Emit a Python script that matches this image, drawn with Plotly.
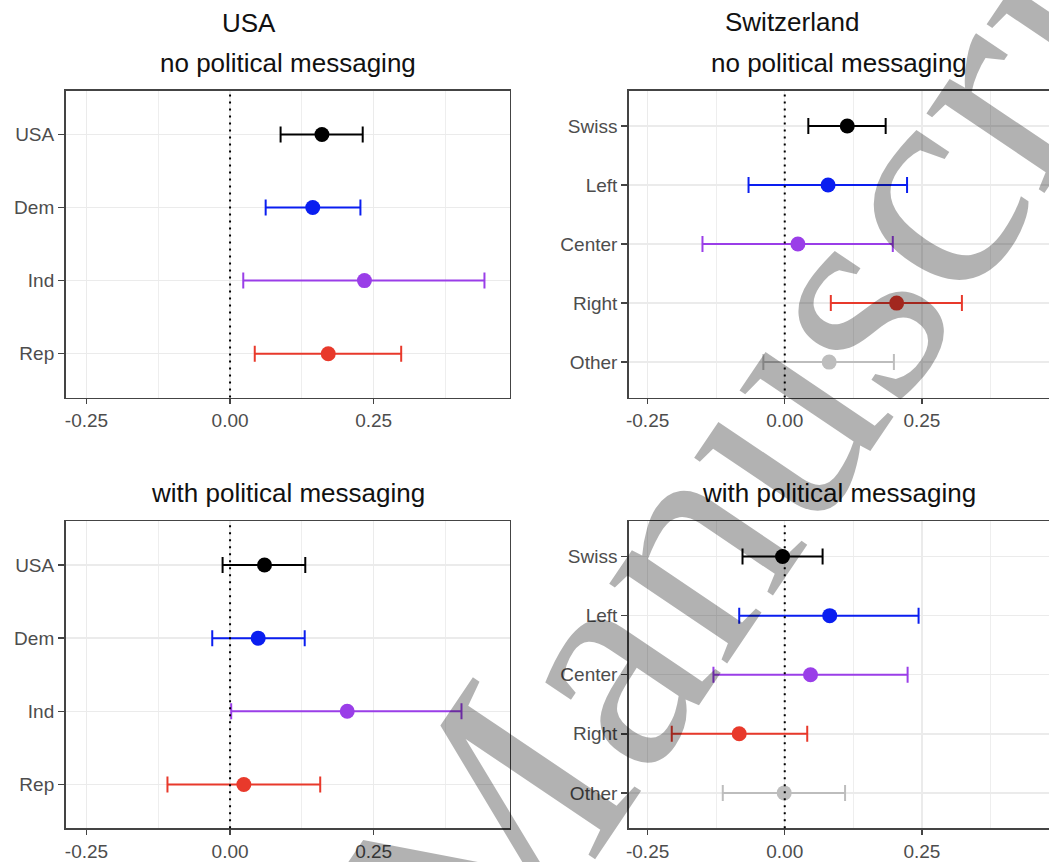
import plotly.graph_objects as go

# ---------------- data ----------------
usa_groups = ["USA", "Dem", "Ind", "Rep"]
usa_colors = ["#000000", "#0a1ef0", "#9a3ee8", "#e8392b"]

usa_no_est = [0.160, 0.144, 0.234, 0.171]
usa_no_lo = [0.088, 0.062, 0.023, 0.043]
usa_no_hi = [0.231, 0.227, 0.443, 0.298]

usa_with_est = [0.060, 0.049, 0.204, 0.024]
usa_with_lo = [-0.013, -0.031, 0.002, -0.109]
usa_with_hi = [0.131, 0.130, 0.403, 0.157]

swiss_groups = ["Swiss", "Left", "Center", "Right", "Other"]
swiss_colors = ["#000000", "#0a1ef0", "#9a3ee8", "#e8392b", "#bdbdbd"]

swiss_no_est = [0.114, 0.079, 0.024, 0.204, 0.081]
swiss_no_lo = [0.043, -0.066, -0.150, 0.084, -0.039]
swiss_no_hi = [0.184, 0.223, 0.197, 0.323, 0.199]

swiss_with_est = [-0.004, 0.082, 0.047, -0.083, -0.001]
swiss_with_lo = [-0.077, -0.083, -0.130, -0.206, -0.113]
swiss_with_hi = [0.069, 0.244, 0.224, 0.041, 0.110]

x_ticks = [-0.25, 0.0, 0.25]
x_tick_labels = ["-0.25", "0.00", "0.25"]
x_minor = [-0.125, 0.125, 0.375]

# ---------------- figure ----------------
W, H = 1049, 862
fig = go.Figure()

panels = [
    ("x", "y", usa_groups, usa_colors, usa_no_est, usa_no_lo, usa_no_hi),
    ("x2", "y2", swiss_groups, swiss_colors, swiss_no_est, swiss_no_lo, swiss_no_hi),
    ("x3", "y3", usa_groups, usa_colors, usa_with_est, usa_with_lo, usa_with_hi),
    ("x4", "y4", swiss_groups, swiss_colors, swiss_with_est, swiss_with_lo, swiss_with_hi),
]

for xa, ya, groups, colors, est, lo, hi in panels:
    for g, c, e, l, h in zip(groups, colors, est, lo, hi):
        fig.add_trace(go.Scatter(
            x=[e], y=[g], xaxis=xa, yaxis=ya, mode="markers",
            marker=dict(size=15, color=c, line=dict(width=0)),
            error_x=dict(type="data", symmetric=False,
                         array=[h - e], arrayminus=[e - l],
                         color=c, thickness=2, width=8),
            showlegend=False, hoverinfo="skip",
        ))
    fig.add_shape(type="line", xref=xa, yref=ya + " domain",
                  x0=0, x1=0, y0=0, y1=1,
                  line=dict(color="black", width=2, dash="2px,5px"), layer="above")

left_dom = [62.7 / W, 508.3 / W]
right_dom = [627.5 / W, 1.0]
top_dom = [1 - 398 / H, 1 - 90.7 / H]
bot_dom = [1 - 829.3 / H, 1 - 521.7 / H]

left_range = [-0.2865, 0.4872]
right_range = [-0.2845, 0.4818]

tickfont = dict(family="Liberation Sans, Arial, sans-serif", size=19, color="#4d4d4d")


def xaxis(domain, rng, anchor):
    return dict(domain=domain, range=rng, anchor=anchor,
                tickvals=x_ticks, ticktext=x_tick_labels,
                showgrid=True, gridcolor="#ebebeb", gridwidth=1.5,
                minor=dict(tickvals=x_minor, showgrid=True, gridcolor="#eeeeee",
                           gridwidth=1, ticks=""),
                zeroline=False, showline=True, mirror=True,
                linecolor="#444444", linewidth=1.5,
                ticks="outside", ticklen=5, tickwidth=1.5, tickcolor="#444444",
                tickfont=tickfont, fixedrange=True)


def yaxis(domain, groups, anchor, mirror):
    n = len(groups)
    return dict(domain=domain, anchor=anchor, type="category",
                categoryorder="array", categoryarray=list(reversed(groups)),
                range=[-0.6, n - 1 + 0.6],
                showgrid=True, gridcolor="#ebebeb", gridwidth=1.5,
                zeroline=False, showline=True, mirror=mirror,
                linecolor="#444444", linewidth=1.5,
                ticks="outside", ticklen=6, tickwidth=1.5, tickcolor="#444444",
                tickfont=tickfont, fixedrange=True)


fig.update_layout(
    width=W, height=H, autosize=False,
    margin=dict(l=0, r=0, t=0, b=0),
    paper_bgcolor="white", plot_bgcolor="white",
    hovermode=False,
    xaxis=xaxis(left_dom, left_range, "y"),
    yaxis=yaxis(top_dom, usa_groups, "x", True),
    xaxis2=xaxis(right_dom, right_range, "y2"),
    yaxis2=yaxis(top_dom, swiss_groups, "x2", False),
    xaxis3=xaxis(left_dom, left_range, "y3"),
    yaxis3=yaxis(bot_dom, usa_groups, "x3", True),
    xaxis4=xaxis(right_dom, right_range, "y4"),
    yaxis4=yaxis(bot_dom, swiss_groups, "x4", False),
)

title_font = dict(family="Liberation Sans, Arial, sans-serif", size=26, color="#111111")
titles = [
    ("USA", 246.7, 22.7),
    ("no political messaging", 285.5, 63),
    ("Switzerland", 790.8, 22.0),
    ("no political messaging", 838.5, 63),
    ("with political messaging", 285.5, 493.3),
    ("with political messaging", 838.5, 493.3),
]
for txt, px, py in titles:
    fig.add_annotation(text=txt, x=px / W, y=1 - py / H, xref="paper", yref="paper",
                       xanchor="center", yanchor="middle", showarrow=False,
                       font=title_font)

# watermark
fig.add_annotation(text="Manuscript", x=800 / W, y=1 - 368 / H, xref="paper", yref="paper",
                   xanchor="center", yanchor="middle", showarrow=False, textangle=-56,
                   font=dict(family="Liberation Serif, Times New Roman, serif", size=310,
                             color="rgba(0,0,0,0.3)"))

fig.write_html("out.html",
               config={"displayModeBar": False, "staticPlot": True},
               post_script="document.body.style.margin='0';document.body.style.overflow='hidden';")
